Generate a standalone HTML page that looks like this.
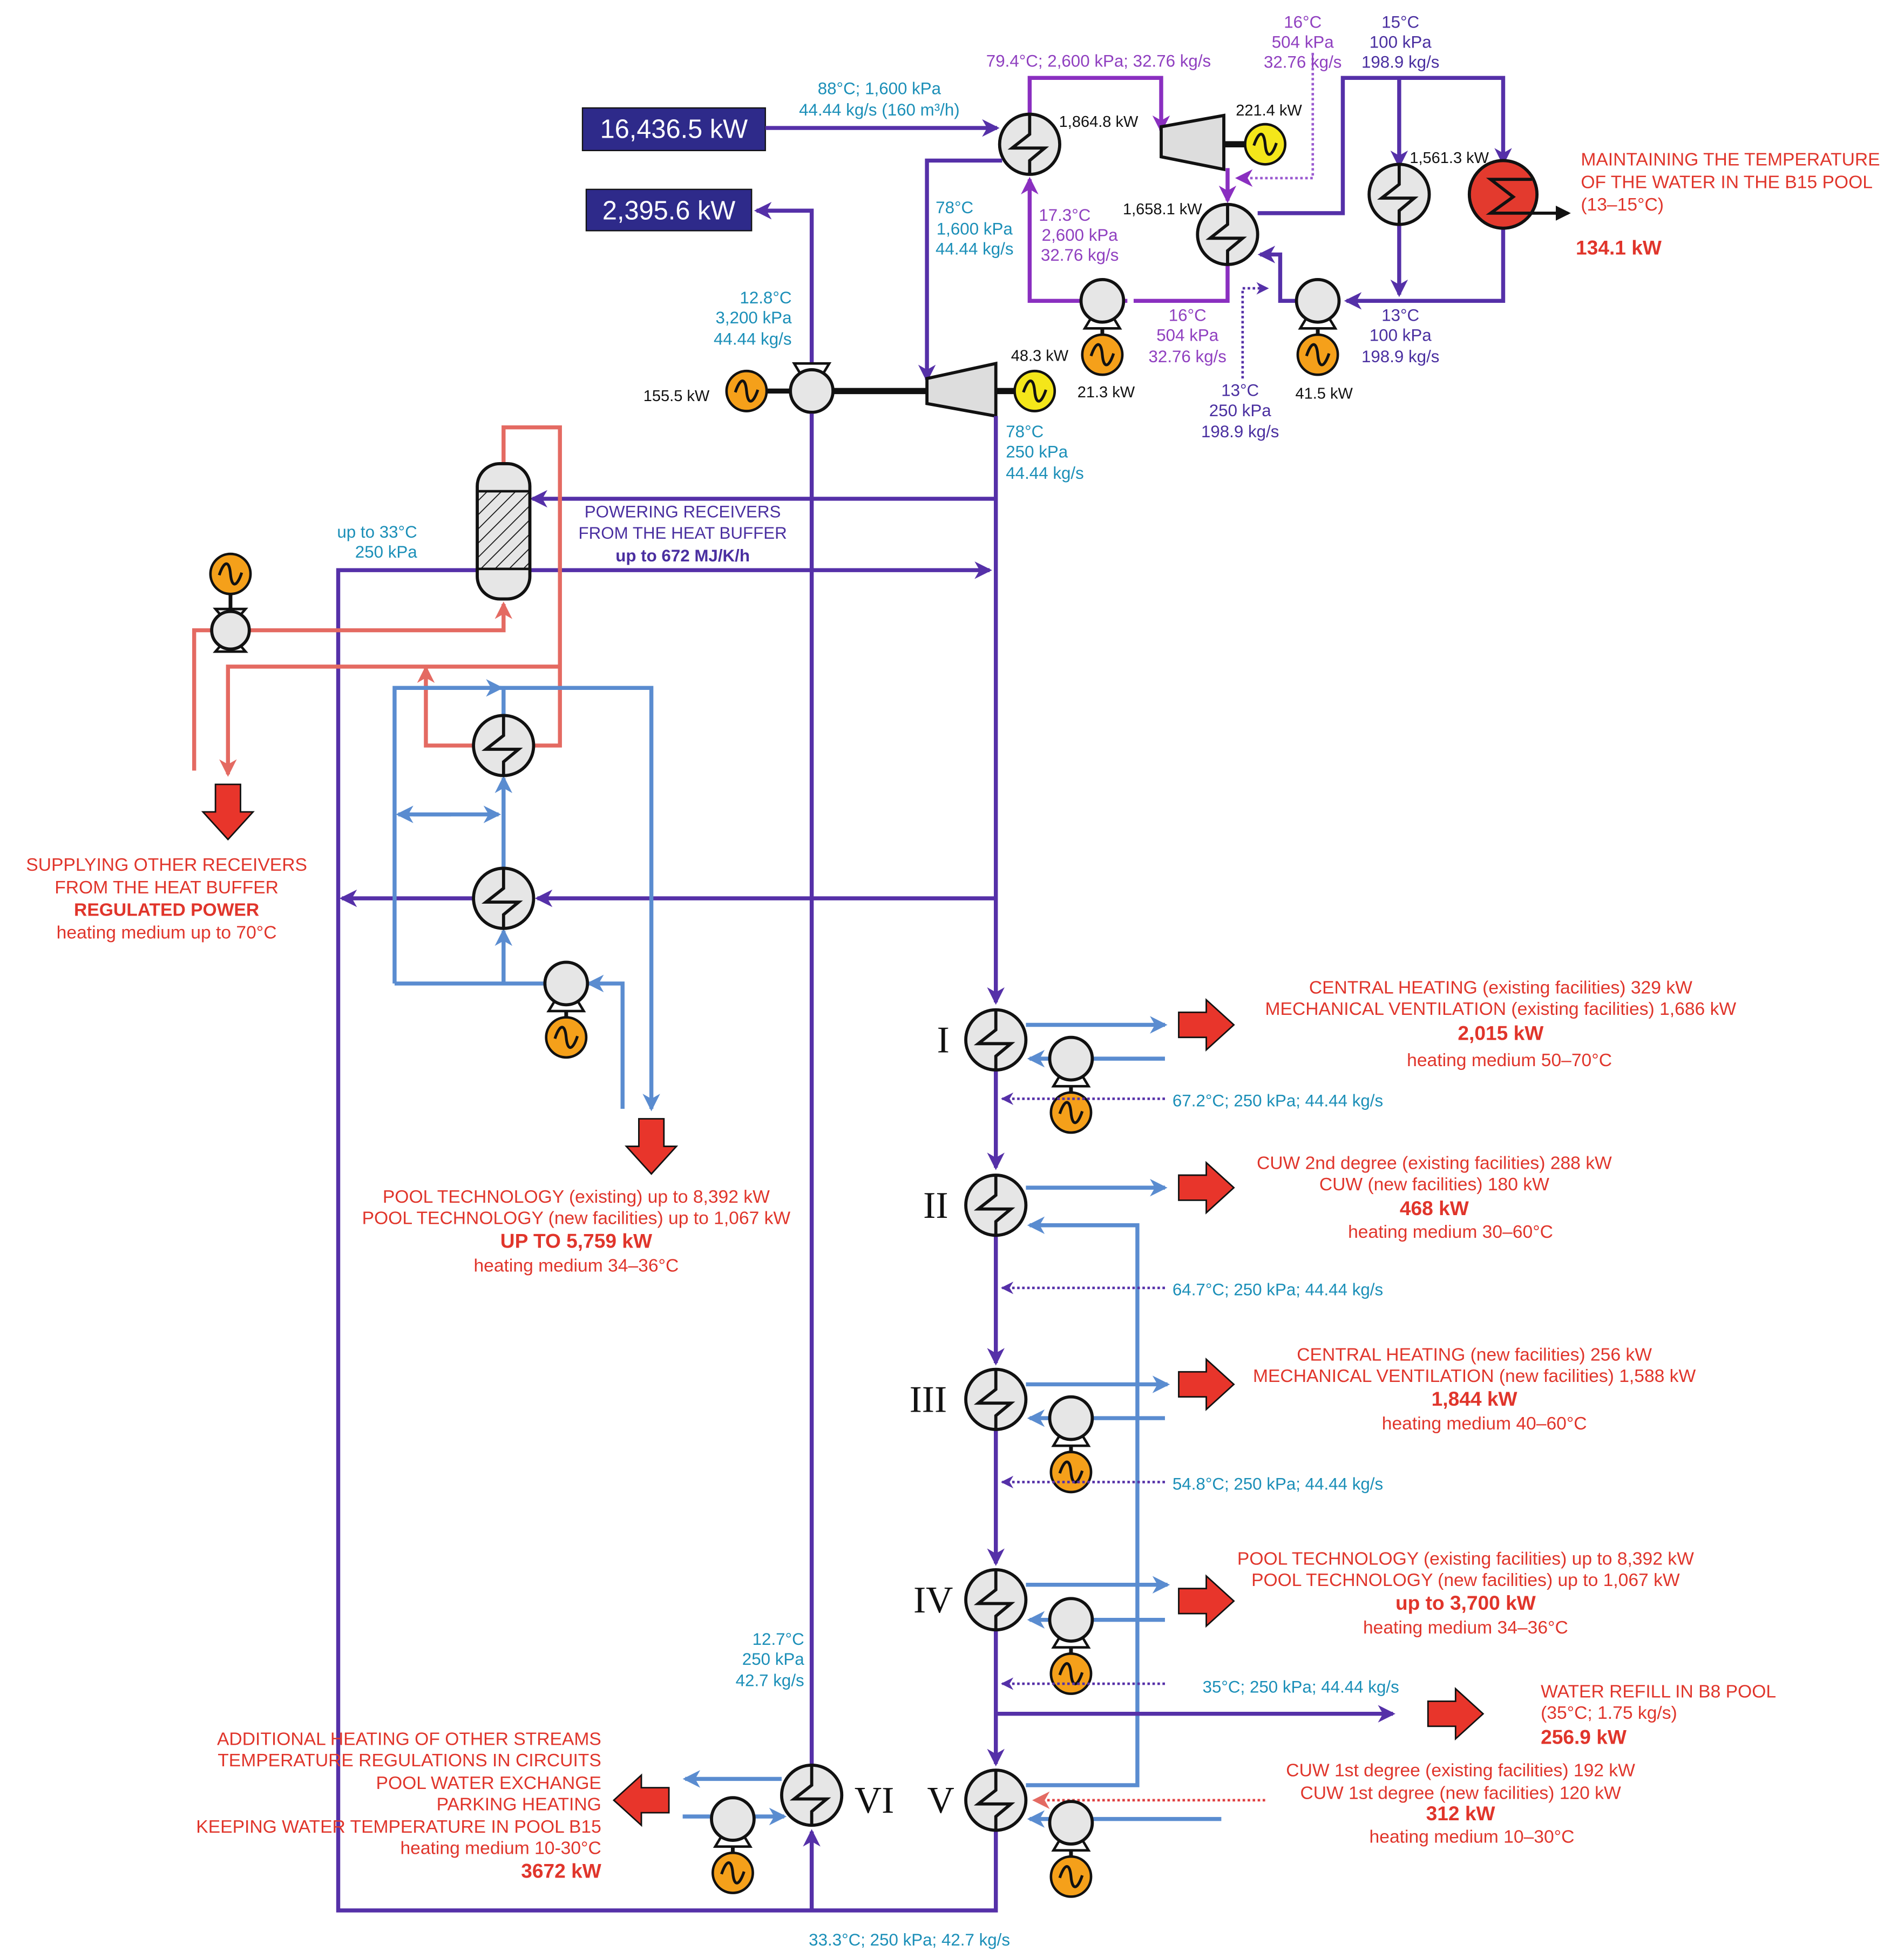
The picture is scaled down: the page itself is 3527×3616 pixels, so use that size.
<!DOCTYPE html>
<html><head><meta charset="utf-8"><style>
html,body{margin:0;padding:0;background:#fff}
svg{display:block}
text{font-family:"Liberation Sans",sans-serif}
.c{fill:#1b8fb8;font-size:13.5px}
.v{fill:#9040c0;font-size:13.5px}
.d{fill:#4a2fa0;font-size:13.5px}
.k{fill:#111;font-size:12.5px}
.r{fill:#e0352b;font-size:14.5px}
.rb{fill:#e0352b;font-size:16px;font-weight:bold}
.rn{fill:#111;font-family:"Liberation Serif",serif;font-size:30px}
.P{stroke:#5530a8;stroke-width:3.2;fill:none}
.V{stroke:#8a2fc0;stroke-width:3.2;fill:none}
.B{stroke:#5a8cd0;stroke-width:3.2;fill:none}
.R{stroke:#e46a62;stroke-width:3.2;fill:none}
.DP{stroke:#5530a8;stroke-width:2;fill:none;stroke-dasharray:2 2}
.DV{stroke:#9a5ad0;stroke-width:2;fill:none;stroke-dasharray:2 2}
.DR{stroke:#e04040;stroke-width:2;fill:none;stroke-dasharray:2 2}
</style></head><body>
<svg width="3527" height="3616" viewBox="0 0 1520 1558" xmlns="http://www.w3.org/2000/svg">
<defs>
<marker id="mp" markerUnits="userSpaceOnUse" markerWidth="16" markerHeight="16" refX="12" refY="8" orient="auto"><path d="M0,1 L14,8 L0,15 L4,8z" fill="#5530a8"/></marker>
<marker id="mv" markerUnits="userSpaceOnUse" markerWidth="16" markerHeight="16" refX="12" refY="8" orient="auto"><path d="M0,1 L14,8 L0,15 L4,8z" fill="#8a2fc0"/></marker>
<marker id="mb" markerUnits="userSpaceOnUse" markerWidth="16" markerHeight="16" refX="12" refY="8" orient="auto"><path d="M0,1 L14,8 L0,15 L4,8z" fill="#5a8cd0"/></marker>
<marker id="mr" markerUnits="userSpaceOnUse" markerWidth="16" markerHeight="16" refX="12" refY="8" orient="auto"><path d="M0,1 L14,8 L0,15 L4,8z" fill="#e46a62"/></marker>
<marker id="mk" markerUnits="userSpaceOnUse" markerWidth="14" markerHeight="14" refX="10" refY="7" orient="auto"><path d="M0,1 L12,7 L0,13z" fill="#111"/></marker>
<marker id="md" markerUnits="userSpaceOnUse" markerWidth="12" markerHeight="12" refX="9" refY="6" orient="auto"><path d="M0,1 L10,6 L0,11 L3,6z" fill="#5530a8"/></marker>
<g id="hx"><circle r="24" fill="#e6e6e6" stroke="#111" stroke-width="2.5"/><path d="M0,-24 L0,-8 L-14,3 L12,3 L0,13 L0,24" fill="none" stroke="#111" stroke-width="2.5"/></g>
<g id="pu"><path d="M-14,22 L14,22 L8,12 L-8,12z" fill="#fff" stroke="#111" stroke-width="2"/><circle r="17" fill="#e6e6e6" stroke="#111" stroke-width="2.5"/></g>
<g id="mo"><circle r="16" fill="#f5a01a" stroke="#111" stroke-width="2"/><path d="M-9,1 C-5,-11 -1,-11 0,0 C1,11 5,11 9,-1" fill="none" stroke="#111" stroke-width="2.2"/></g>
<g id="my"><circle r="16" fill="#f4e61a" stroke="#111" stroke-width="2"/><path d="M-9,1 C-5,-11 -1,-11 0,0 C1,11 5,11 9,-1" fill="none" stroke="#111" stroke-width="2.2"/></g>
<g id="ar"><path d="M-22,-10 L0,-10 L0,-20 L22,0 L0,20 L0,10 L-22,10z" fill="#e8352b" stroke="#111" stroke-width="1.2"/></g>
<g id="pm"><use href="#pu"/><line x1="0" y1="22" x2="0" y2="30" stroke="#111" stroke-width="3"/><use href="#mo" y="43"/></g>
</defs>

<!-- boxes -->
<rect x="465" y="86" width="146" height="34" fill="#2e2a8a" stroke="#111"/>
<text x="538" y="110" fill="#fff" font-size="21" text-anchor="middle">16,436.5 kW</text>
<rect x="468" y="151" width="132" height="33" fill="#2e2a8a" stroke="#111"/>
<text x="534" y="175" fill="#fff" font-size="21" text-anchor="middle">2,395.6 kW</text>

<!-- top cycle -->
<path class="P" d="M611,102 L796,102" marker-end="url(#mp)"/>
<text class="c" x="702" y="75" text-anchor="middle">88°C; 1,600 kPa</text>
<text class="c" x="702" y="92" text-anchor="middle">44.44 kg/s (160 m³/h)</text>
<path class="V" d="M822,91 L822,62 L927,62 L927,104" marker-end="url(#mv)"/>
<text class="v" x="877" y="53" text-anchor="middle">79.4°C; 2,600 kPa; 32.76 kg/s</text>
<path d="M927,101 L977,92 L977,135 L927,125z" fill="#ddd" stroke="#111" stroke-width="2.5"/>
<line x1="977" y1="115" x2="995" y2="115" stroke="#111" stroke-width="5"/>
<use href="#my" x="1010" y="115"/>
<text class="k" x="1013" y="92" text-anchor="middle">221.4 kW</text>
<text class="k" x="877" y="101" text-anchor="middle">1,864.8 kW</text>
<path class="V" d="M980,134 L980,160" marker-end="url(#mv)"/>
<path class="DV" d="M1048,42 L1048,142 L988,142" marker-end="url(#mv)"/>
<text class="v" x="1040" y="22" text-anchor="middle">16°C</text>
<text class="v" x="1040" y="38" text-anchor="middle">504 kPa</text>
<text class="v" x="1040" y="54" text-anchor="middle">32.76 kg/s</text>
<path class="V" d="M980,211 L980,240 L905,240"/>
<path class="V" d="M900,240 L880,240" marker-end="url(#mv)"/>
<path class="V" d="M863,240 L822,240 L822,143" marker-end="url(#mv)"/>
<use href="#hx" x="822" y="115"/>
<use href="#hx" x="980" y="187"/>
<text class="k" x="928" y="171" text-anchor="middle">1,658.1 kW</text>
<text class="v" x="850" y="176" text-anchor="middle">17.3°C</text>
<text class="v" x="862" y="192" text-anchor="middle">2,600 kPa</text>
<text class="v" x="862" y="208" text-anchor="middle">32.76 kg/s</text>
<use href="#pm" x="880" y="240"/>
<text class="k" x="883" y="317" text-anchor="middle">21.3 kW</text>
<text class="v" x="948" y="256" text-anchor="middle">16°C</text>
<text class="v" x="948" y="272" text-anchor="middle">504 kPa</text>
<text class="v" x="948" y="289" text-anchor="middle">32.76 kg/s</text>

<path class="P" d="M1004,170 L1072,170 L1072,62 L1200,62 L1200,130" marker-end="url(#mp)"/>
<path class="P" d="M1117,62 L1117,132" marker-end="url(#mp)"/>
<path class="P" d="M1117,178 L1117,235" marker-end="url(#mp)"/>
<path class="P" d="M1200,182 L1200,240 L1075,240" marker-end="url(#mp)"/>
<path class="P" d="M1035,240 L1022,240 L1022,203 L1006,203" marker-end="url(#mp)"/>
<use href="#hx" x="1117" y="155"/>
<circle cx="1200" cy="155" r="27" fill="#e33a2e" stroke="#111" stroke-width="2.5"/>
<path d="M1223,143 L1190,143 L1208,157 L1190,170 L1252,170" fill="none" stroke="#111" stroke-width="2.5" marker-end="url(#mk)"/>
<text class="k" x="1157" y="130" text-anchor="middle">1,561.3 kW</text>
<text class="d" x="1118" y="22" text-anchor="middle">15°C</text>
<text class="d" x="1118" y="38" text-anchor="middle">100 kPa</text>
<text class="d" x="1118" y="54" text-anchor="middle">198.9 kg/s</text>
<use href="#pm" x="1052" y="240"/>
<text class="k" x="1057" y="318" text-anchor="middle">41.5 kW</text>
<text class="d" x="1118" y="256" text-anchor="middle">13°C</text>
<text class="d" x="1118" y="272" text-anchor="middle">100 kPa</text>
<text class="d" x="1118" y="289" text-anchor="middle">198.9 kg/s</text>
<path class="DP" d="M992,302 L992,230 L1012,230" marker-end="url(#md)"/>
<text class="d" x="990" y="316" text-anchor="middle">13°C</text>
<text class="d" x="990" y="332" text-anchor="middle">250 kPa</text>
<text class="d" x="990" y="349" text-anchor="middle">198.9 kg/s</text>
<text class="r" x="1262" y="132">MAINTAINING THE TEMPERATURE</text>
<text class="r" x="1262" y="150">OF THE WATER IN THE B15 POOL</text>
<text class="r" x="1262" y="168">(13–15°C)</text>
<text class="rb" x="1258" y="203" font-size="20">134.1 kW</text>

<!-- turbine 2 -->
<path class="P" d="M800,128 L740,128 L740,303" marker-end="url(#mp)"/>
<text class="c" x="762" y="170" text-anchor="middle">78°C</text>
<text class="c" x="778" y="187" text-anchor="middle">1,600 kPa</text>
<text class="c" x="778" y="203" text-anchor="middle">44.44 kg/s</text>
<line x1="655" y1="312" x2="742" y2="312" stroke="#111" stroke-width="5"/>
<path d="M740,302 L795,290 L795,332 L740,322z" fill="#ddd" stroke="#111" stroke-width="2.5"/>
<line x1="795" y1="312" x2="810" y2="312" stroke="#111" stroke-width="5"/>
<use href="#my" x="826" y="312"/>
<text class="k" x="830" y="288" text-anchor="middle">48.3 kW</text>
<path class="P" d="M648,295 L648,168 L604,168" marker-end="url(#mp)"/>
<line x1="612" y1="312" x2="632" y2="312" stroke="#111" stroke-width="4"/>
<use href="#mo" x="596" y="312"/>
<g transform="translate(648,312) rotate(180)"><use href="#pu"/></g>
<text class="k" x="540" y="320" text-anchor="middle">155.5 kW</text>
<text class="c" x="632" y="242" text-anchor="end">12.8°C</text>
<text class="c" x="632" y="258" text-anchor="end">3,200 kPa</text>
<text class="c" x="632" y="275" text-anchor="end">44.44 kg/s</text>
<text class="c" x="803" y="349">78°C</text>
<text class="c" x="803" y="365">250 kPa</text>
<text class="c" x="803" y="382">44.44 kg/s</text>

<!-- main purple -->
<path class="P" d="M795,332 L795,800" marker-end="url(#mp)"/>
<path class="P" d="M795,855 L795,932" marker-end="url(#mp)"/>
<path class="P" d="M795,987 L795,1088" marker-end="url(#mp)"/>
<path class="P" d="M795,1142 L795,1248" marker-end="url(#mp)"/>
<path class="P" d="M795,1302 L795,1408" marker-end="url(#mp)"/>
<path class="P" d="M795,1461 L795,1525 L270,1525 L270,455 L790,455" marker-end="url(#mp)"/>
<path class="P" d="M648,1525 L648,1462" marker-end="url(#mp)"/>
<path class="P" d="M648,1408 L648,330"/>
<path class="P" d="M795,398 L425,398" marker-end="url(#mp)"/>
<path class="P" d="M795,717 L429,717" marker-end="url(#mp)"/>
<path class="P" d="M378,717 L273,717" marker-end="url(#mp)"/>
<text class="d" x="545" y="413" text-anchor="middle">POWERING RECEIVERS</text>
<text class="d" x="545" y="430" text-anchor="middle">FROM THE HEAT BUFFER</text>
<text class="d" x="545" y="448" text-anchor="middle" font-weight="bold" font-size="15.5">up to 672 MJ/K/h</text>
<text class="c" x="333" y="429" text-anchor="end">up to 33°C</text>
<text class="c" x="333" y="445" text-anchor="end">250 kPa</text>

<!-- red buffer loop -->
<path class="R" d="M402,370 L402,341 L447,341 L447,595 L427,595"/>
<path class="R" d="M378,595 L340,595 L340,533" marker-end="url(#mr)"/>
<path class="R" d="M447,532 L182,532 L182,618" marker-end="url(#mr)"/>
<path class="R" d="M155,615 L155,503 L182,503"/>
<path class="R" d="M200,503 L402,503 L402,482" marker-end="url(#mr)"/>
<defs><pattern id="hat" width="8" height="8" patternUnits="userSpaceOnUse" patternTransform="rotate(45)"><line x1="0" y1="0" x2="0" y2="8" stroke="#111" stroke-width="1.5"/></pattern></defs>
<rect x="381" y="370" width="42" height="108" rx="18" fill="#e6e6e6" stroke="#111" stroke-width="2.5"/>
<rect x="381" y="392" width="42" height="62" fill="url(#hat)" stroke="#111" stroke-width="2"/>
<use href="#mo" x="184" y="458"/>
<line x1="184" y1="474" x2="184" y2="486" stroke="#111" stroke-width="3"/>
<path d="M172,486 L196,486 L184,500z M172,520 L196,520 L184,506z" fill="#fff" stroke="#111" stroke-width="2"/>
<circle cx="184" cy="503" r="15" fill="#e6e6e6" stroke="#111" stroke-width="2.5"/>
<g transform="translate(182,648) rotate(90)"><use href="#ar"/></g>
<text class="r" x="133" y="695" text-anchor="middle">SUPPLYING OTHER RECEIVERS</text>
<text class="r" x="133" y="713" text-anchor="middle">FROM THE HEAT BUFFER</text>
<text class="r" x="133" y="731" text-anchor="middle" font-weight="bold">REGULATED POWER</text>
<text class="r" x="133" y="749" text-anchor="middle">heating medium up to 70°C</text>

<!-- blue pool loop -->
<path class="B" d="M315,785 L315,549 L520,549 L520,885" marker-end="url(#mb)"/>
<path class="B" d="M340,549 L400,549" marker-end="url(#mb)"/>
<path class="B" d="M402,570 L402,549"/>
<path class="B" d="M402,692 L402,621" marker-end="url(#mb)"/>
<path class="B" d="M315,785 L436,785"/>
<path class="B" d="M402,785 L402,743" marker-end="url(#mb)"/>
<path class="B" d="M497,885 L497,785 L470,785" marker-end="url(#mb)"/>
<path class="B" d="M330,650 L398,650" marker-end="url(#mb)"/>
<path class="B" d="M360,650 L318,650" marker-end="url(#mb)"/>
<use href="#hx" x="402" y="595"/>
<use href="#hx" x="402" y="717"/>
<use href="#pm" x="452" y="785"/>
<g transform="translate(520,915) rotate(90)"><use href="#ar"/></g>
<text class="r" x="460" y="960" text-anchor="middle">POOL TECHNOLOGY (existing) up to 8,392 kW</text>
<text class="r" x="460" y="977" text-anchor="middle">POOL TECHNOLOGY (new facilities) up to 1,067 kW</text>
<text class="rb" x="460" y="996" text-anchor="middle">UP TO 5,759 kW</text>
<text class="r" x="460" y="1015" text-anchor="middle">heating medium 34–36°C</text>

<!-- Stage I -->
<use href="#hx" x="795" y="830"/><text class="rn" x="753" y="840" text-anchor="middle">I</text>
<path class="B" d="M819,818 L930,818" marker-end="url(#mb)"/>
<path class="B" d="M930,845 L822,845" marker-end="url(#mb)"/>
<use href="#pm" x="855" y="845"/>
<path class="DP" d="M930,877 L800,877" marker-end="url(#md)"/>
<text class="c" x="936" y="883">67.2°C; 250 kPa; 44.44 kg/s</text>
<use href="#ar" x="963" y="818"/>
<text class="r" x="1198" y="793" text-anchor="middle">CENTRAL HEATING (existing facilities) 329 kW</text>
<text class="r" x="1198" y="810" text-anchor="middle">MECHANICAL VENTILATION (existing facilities) 1,686 kW</text>
<text class="rb" x="1198" y="830" text-anchor="middle">2,015 kW</text>
<text class="r" x="1205" y="851" text-anchor="middle">heating medium 50–70°C</text>

<!-- Stage II -->
<use href="#hx" x="795" y="962"/><text class="rn" x="747" y="972" text-anchor="middle">II</text>
<path class="B" d="M819,948 L930,948" marker-end="url(#mb)"/>
<path class="B" d="M819,1425 L908,1425 L908,978 L822,978" marker-end="url(#mb)"/>
<path class="DP" d="M930,1028 L800,1028" marker-end="url(#md)"/>
<text class="c" x="936" y="1034">64.7°C; 250 kPa; 44.44 kg/s</text>
<use href="#ar" x="963" y="948"/>
<text class="r" x="1145" y="933" text-anchor="middle">CUW 2nd degree (existing facilities) 288 kW</text>
<text class="r" x="1145" y="950" text-anchor="middle">CUW (new facilities) 180 kW</text>
<text class="rb" x="1145" y="970" text-anchor="middle">468 kW</text>
<text class="r" x="1158" y="988" text-anchor="middle">heating medium 30–60°C</text>

<!-- Stage III -->
<use href="#hx" x="795" y="1117"/><text class="rn" x="741" y="1127" text-anchor="middle">III</text>
<path class="B" d="M819,1105 L932,1105" marker-end="url(#mb)"/>
<path class="B" d="M930,1132 L822,1132" marker-end="url(#mb)"/>
<use href="#pm" x="855" y="1132"/>
<path class="DP" d="M930,1183 L800,1183" marker-end="url(#md)"/>
<text class="c" x="936" y="1189">54.8°C; 250 kPa; 44.44 kg/s</text>
<use href="#ar" x="963" y="1105"/>
<text class="r" x="1177" y="1086" text-anchor="middle">CENTRAL HEATING (new facilities) 256 kW</text>
<text class="r" x="1177" y="1103" text-anchor="middle">MECHANICAL VENTILATION (new facilities) 1,588 kW</text>
<text class="rb" x="1177" y="1122" text-anchor="middle">1,844 kW</text>
<text class="r" x="1185" y="1141" text-anchor="middle">heating medium 40–60°C</text>

<!-- Stage IV -->
<use href="#hx" x="795" y="1277"/><text class="rn" x="745" y="1287" text-anchor="middle">IV</text>
<path class="B" d="M819,1265 L932,1265" marker-end="url(#mb)"/>
<path class="B" d="M930,1293 L822,1293" marker-end="url(#mb)"/>
<use href="#pm" x="855" y="1293"/>
<path class="DP" d="M930,1344 L800,1344" marker-end="url(#md)"/>
<text class="c" x="960" y="1351">35°C; 250 kPa; 44.44 kg/s</text>
<use href="#ar" x="963" y="1278"/>
<text class="r" x="1170" y="1249" text-anchor="middle">POOL TECHNOLOGY (existing facilities) up to 8,392 kW</text>
<text class="r" x="1170" y="1266" text-anchor="middle">POOL TECHNOLOGY (new facilities) up to 1,067 kW</text>
<text class="rb" x="1170" y="1285" text-anchor="middle">up to 3,700 kW</text>
<text class="r" x="1170" y="1304" text-anchor="middle">heating medium 34–36°C</text>
<path class="P" d="M795,1368 L1112,1368" marker-end="url(#mp)"/>
<use href="#ar" x="1162" y="1368"/>
<text class="r" x="1230" y="1355">WATER REFILL IN B8 POOL</text>
<text class="r" x="1230" y="1372">(35°C; 1.75 kg/s)</text>
<text class="rb" x="1230" y="1392">256.9 kW</text>

<!-- Stage V -->
<use href="#hx" x="795" y="1437"/><text class="rn" x="751" y="1447" text-anchor="middle">V</text>
<path class="DR" d="M1010,1437 L826,1437" marker-end="url(#mr)"/>
<path class="B" d="M975,1452 L822,1452" marker-end="url(#mb)"/>
<use href="#pm" x="855" y="1455"/>
<text class="r" x="1166" y="1418" text-anchor="middle">CUW 1st degree (existing facilities) 192 kW</text>
<text class="r" x="1166" y="1436" text-anchor="middle">CUW 1st degree (new facilities) 120 kW</text>
<text class="rb" x="1166" y="1453" text-anchor="middle">312 kW</text>
<text class="r" x="1175" y="1471" text-anchor="middle">heating medium 10–30°C</text>

<!-- Stage VI -->
<use href="#hx" x="648" y="1433"/><text class="rn" x="698" y="1447" text-anchor="middle">VI</text>
<path class="B" d="M624,1420 L547,1420" marker-end="url(#mb)"/>
<path class="B" d="M545,1450 L626,1450" marker-end="url(#mb)"/>
<use href="#pm" x="585" y="1452"/>
<g transform="translate(512,1437) rotate(180)"><use href="#ar"/></g>
<text class="c" x="642" y="1313" text-anchor="end">12.7°C</text>
<text class="c" x="642" y="1329" text-anchor="end">250 kPa</text>
<text class="c" x="642" y="1346" text-anchor="end">42.7 kg/s</text>
<text class="r" x="480" y="1393" text-anchor="end">ADDITIONAL HEATING OF OTHER STREAMS</text>
<text class="r" x="480" y="1410" text-anchor="end">TEMPERATURE REGULATIONS IN CIRCUITS</text>
<text class="r" x="480" y="1428" text-anchor="end">POOL WATER EXCHANGE</text>
<text class="r" x="480" y="1445" text-anchor="end">PARKING HEATING</text>
<text class="r" x="480" y="1463" text-anchor="end">KEEPING WATER TEMPERATURE IN POOL B15</text>
<text class="r" x="480" y="1480" text-anchor="end">heating medium 10-30°C</text>
<text class="rb" x="480" y="1499" text-anchor="end">3672 kW</text>
<text class="c" x="726" y="1553" text-anchor="middle">33.3°C; 250 kPa; 42.7 kg/s</text>
</svg>
</body></html>
